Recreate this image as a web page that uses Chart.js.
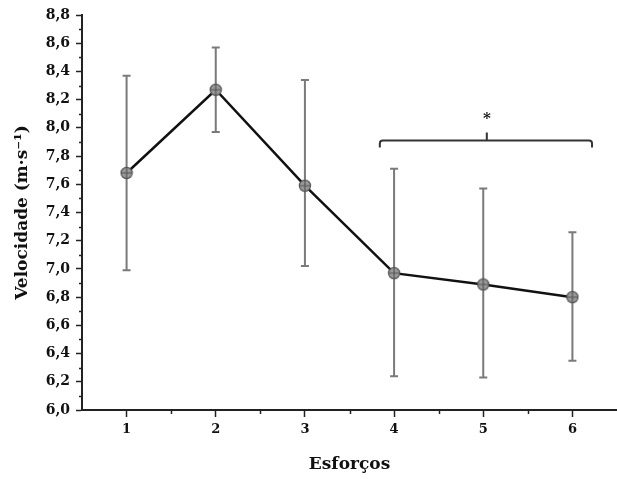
<!DOCTYPE html>
<html lang="pt">
<head>
  <meta charset="UTF-8">
  <title>Velocidade por esforço</title>
  <script src="https://cdn.jsdelivr.net/npm/chart.js"></script>
  <style>
    html, body { margin: 0; padding: 0; background: #fff; overflow: hidden; }
    canvas { display: block; }
  </style>
</head>
<body>
  <canvas id="chart" width="617" height="479"></canvas>
  <script>
    const efforts = [1, 2, 3, 4, 5, 6];
    const speedMean = [7.68, 8.27, 7.59, 6.97, 6.89, 6.80];
    const speedUpper = [8.37, 8.57, 8.34, 7.71, 7.57, 7.26];
    const speedLower = [6.99, 7.97, 7.02, 6.24, 6.23, 6.35];
    const yTicks = [6.0, 6.2, 6.4, 6.6, 6.8, 7.0, 7.2, 7.4, 7.6, 7.8, 8.0, 8.2, 8.4, 8.6, 8.8];

    const serif = '"DejaVu Serif", "Liberation Serif", serif';

    // circle-with-cross marker
    function makeMarker() {
      const c = document.createElement('canvas');
      c.width = 14; c.height = 14;
      const g = c.getContext('2d');
      g.fillStyle = '#9a9a9a';
      g.strokeStyle = '#555';
      g.lineWidth = 1.2;
      g.beginPath(); g.arc(7, 7, 5.6, 0, Math.PI * 2); g.fill(); g.stroke();
      g.beginPath();
      g.moveTo(1.5, 7); g.lineTo(12.5, 7);
      g.moveTo(7, 1.5); g.lineTo(7, 12.5);
      g.stroke();
      return c;
    }

    const extras = {
      id: 'extras',
      beforeDatasetsDraw(chart) {
        const { ctx, scales: { x, y } } = chart;
        ctx.save();
        // error bars
        ctx.strokeStyle = '#7a7a7a';
        ctx.lineWidth = 2;
        efforts.forEach((e, i) => {
          const px = x.getPixelForValue(e);
          const top = y.getPixelForValue(speedUpper[i]);
          const bot = y.getPixelForValue(speedLower[i]);
          ctx.beginPath();
          ctx.moveTo(px, top); ctx.lineTo(px, bot);
          ctx.moveTo(px - 4, top); ctx.lineTo(px + 4, top);
          ctx.moveTo(px - 4, bot); ctx.lineTo(px + 4, bot);
          ctx.stroke();
        });
        ctx.restore();
      },
      afterDraw(chart) {
        const { ctx, scales: { x, y } } = chart;
        ctx.save();
        ctx.strokeStyle = '#222';
        ctx.lineWidth = 1.5;
        // minor ticks
        for (let v = 6.1; v < 8.8; v += 0.2) {
          const py = Math.round(y.getPixelForValue(v)) + 0.5;
          ctx.beginPath(); ctx.moveTo(x.left - 3, py); ctx.lineTo(x.left, py); ctx.stroke();
        }
        for (let v = 1.5; v < 6.5; v += 1) {
          const px = Math.round(x.getPixelForValue(v)) + 0.5;
          ctx.beginPath(); ctx.moveTo(px, y.bottom); ctx.lineTo(px, y.bottom + 4); ctx.stroke();
        }
        // significance bracket
        const bx1 = x.getPixelForValue(3.84), bx2 = x.getPixelForValue(6.22);
        const bmid = x.getPixelForValue(5.04);
        const by = y.getPixelForValue(7.91), byEnd = y.getPixelForValue(7.86);
        ctx.strokeStyle = '#333';
        ctx.lineWidth = 2;
        ctx.beginPath();
        ctx.moveTo(bx1, byEnd);
        ctx.lineTo(bx1, by + 3);
        ctx.quadraticCurveTo(bx1, by, bx1 + 3, by);
        ctx.lineTo(bx2 - 3, by);
        ctx.quadraticCurveTo(bx2, by, bx2, by + 3);
        ctx.lineTo(bx2, byEnd);
        ctx.moveTo(bmid, by);
        ctx.lineTo(bmid, by - 8);
        ctx.stroke();
        ctx.fillStyle = '#111';
        ctx.font = 'bold 15px ' + serif;
        ctx.textAlign = 'center';
        ctx.textBaseline = 'middle';
        ctx.fillText('*', bmid, by - 21);
        ctx.restore();
      }
    };

    new Chart(document.getElementById('chart'), {
      type: 'line',
      data: {
        datasets: [{
          data: efforts.map((e, i) => ({ x: e, y: speedMean[i] })),
          borderColor: '#111',
          borderWidth: 2.5,
          pointStyle: makeMarker(),
          pointRadius: 7,
          tension: 0
        }]
      },
      options: {
        responsive: false,
        animation: false,
        layout: { autoPadding: false, padding: { top: 15, right: 0, left: 0, bottom: 0 } },
        plugins: { legend: { display: false }, tooltip: { enabled: false } },
        scales: {
          x: {
            type: 'linear',
            min: 0.5, max: 6.5,
            afterBuildTicks: s => { s.ticks = efforts.map(v => ({ value: v })); },
            afterFit: s => { s.height = 69; },
            grid: { drawOnChartArea: false, drawTicks: true, tickLength: 7, tickColor: '#222', tickWidth: 1.5 },
            border: { display: true, color: '#222', width: 2 },
            ticks: { color: '#111', font: { family: serif, size: 13, weight: 'bold' }, padding: 5 },
            title: { display: true, text: 'Esforços', color: '#111', font: { family: serif, size: 17, weight: 'bold' }, padding: { top: 14 } }
          },
          y: {
            min: 6.0, max: 8.8,
            afterBuildTicks: s => { s.ticks = yTicks.map(v => ({ value: v })); },
            afterFit: s => { s.width = 82; },
            grid: { drawOnChartArea: false, drawTicks: true, tickLength: 6, tickColor: '#222', tickWidth: 1.5 },
            border: { display: true, color: '#222', width: 2 },
            ticks: {
              color: '#111', font: { family: serif, size: 14, weight: 'bold' }, padding: 6,
              callback: v => v.toFixed(1).replace('.', ',')
            },
            title: { display: true, text: 'Velocidade (m·s⁻¹)', color: '#111', font: { family: serif, size: 17, weight: 'bold' }, padding: { top: 12, bottom: 4 } }
          }
        }
      },
      plugins: [extras]
    });
  </script>
</body>
</html>
